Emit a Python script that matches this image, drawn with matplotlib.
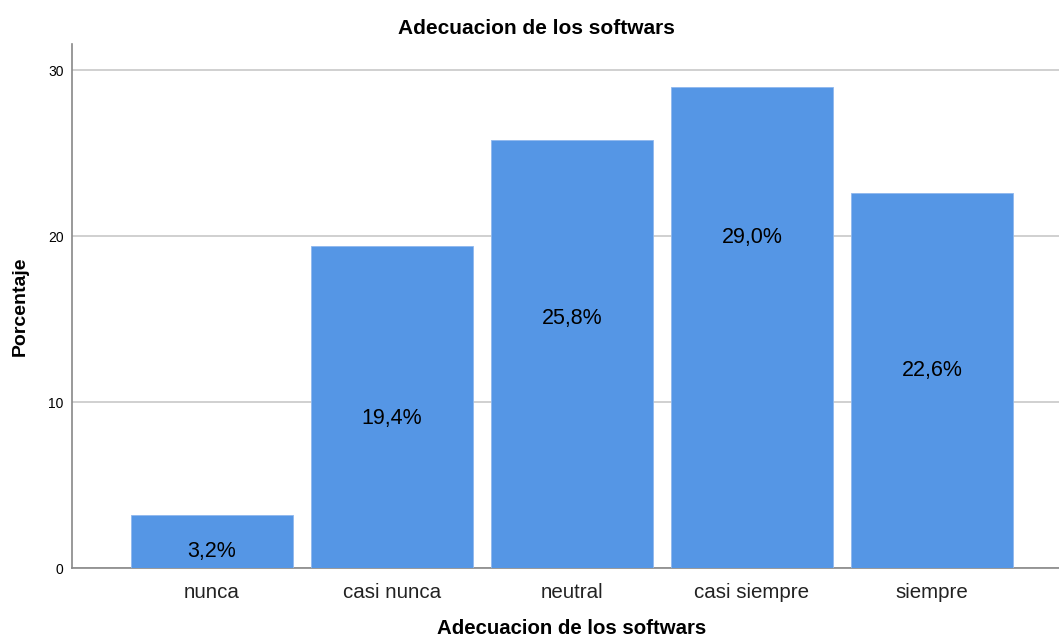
import matplotlib

matplotlib.use("Agg")
import matplotlib.pyplot as plt

categories = ["nunca", "casi nunca", "neutral", "casi siempre", "siempre"]
percentages = [3.2, 19.4, 25.8, 29.0, 22.6]
bar_labels = ["3,2%", "19,4%", "25,8%", "29,0%", "22,6%"]
y_ticks = [0, 10, 20, 30]

# SPSS puts the value labels at its own heights, not at bar mid-height
label_heights = [1.0, 9.0, 15.05, 19.9, 11.9]

plt.rcParams["font.family"] = ["Liberation Sans", "DejaVu Sans"]

bar_color = "#5596e5"
fig = plt.figure(figsize=(10.59, 6.38), dpi=100)
ax = fig.add_axes([72 / 1059, 70 / 638, 987 / 1059, 524 / 638])

x = range(len(categories))
ax.bar(x, percentages, width=0.9, color=bar_color, edgecolor="#8fb8ee", linewidth=0.6, zorder=3)
for xi, h, text in zip(x, label_heights, bar_labels):
    ax.text(xi, h, text, ha="center", va="center", fontsize=15.5, color="black", zorder=4)

ax.set_xlim(-0.778, 4.706)
ax.set_ylim(0, 31.57)
ax.set_yticks(y_ticks)
ax.set_yticklabels([str(t) for t in y_ticks], fontsize=10)
ax.set_xticks(list(x))
ax.set_xticklabels(categories, fontsize=14.8, color="#222222")
ax.tick_params(axis="both", length=0)
ax.tick_params(axis="x", pad=11)
ax.tick_params(axis="y", pad=6)

ax.yaxis.grid(True, color="#c8c8c8", linewidth=1.2, zorder=0)
for side in ["top", "right"]:
    ax.spines[side].set_visible(False)
for side in ["left", "bottom"]:
    ax.spines[side].set_color("#888888")
    ax.spines[side].set_linewidth(1.2)

fig.text(536 / 1059, 1 - 28 / 638, "Adecuacion de los softwars", fontsize=15,
         fontweight="bold", ha="center", va="center")
ax.set_ylabel("Porcentaje", fontsize=14, fontweight="bold", labelpad=14)
fig.text(572 / 1059, 1 - 629 / 638, "Adecuacion de los softwars", fontsize=14.7,
         fontweight="bold", ha="center", va="center")

fig.savefig("out.png", dpi=100)
